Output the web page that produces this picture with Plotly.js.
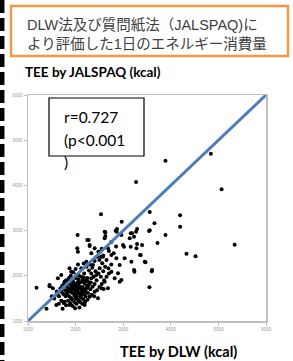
<!DOCTYPE html>
<html>
<head>
<meta charset="utf-8">
<script src="https://cdn.plot.ly/plotly-3.0.1.min.js"></script>
<style>
html,body{margin:0;padding:0;background:#fff;}
#chart{width:293px;height:361px;}
</style>
</head>
<body>
<div id="chart"></div>
<script>
// TEE by DLW (kcal) - x values
const teeDLW = [
3888,4842,5067,3270,2533,2968,2870,3291,3558,4196,3657,4196,3558,3888,3720,5341,4330,4520,3544,3396,3368,3467,3606,3600,3551,
2042,2274,2625,2625,2863,2035,2295,2330,2478,2533,3158,3228,3270,3017,3158,3291,3354,3453,3236,2926,2589,1179,1453,1389,1726,2688,2891,
2610,2842,2610,2962,3137,3185,3278,2246,2295,2049,2400,2505,2575,2680,2751,2856,2996,3031,2926,3172,3228,2962,2751,2821,2610,2680,
1453,1522,1628,1699,1768,1873,1909,1628,1594,1768,1699,1873,1909,2049,2120,2189,2295,2400,2470,2540,2259,2154,2330,2435,2505,2364,2225,2120,2015,1943,2015,2084,
1850,1900,1950,2000,2050,2100,2150,2200,1980,2030,2080,2130,2180,2230,2280,2320,2250,2180,2120,2060,2000,1940,1880,1820,1780,1830,1870,1920,1970,2020,
2070,2110,2160,2210,2260,2310,2360,2400,2440,2380,2330,2280,2230,2170,2300,2350,2420,2480,2530,2580,2620,2560,2500,2450,2400,2050,2000,1950,1900,1860,
1800,1760,1720,1680,1740,1790,1840,1890,1940,1990,2080,2140,2200,2250,2340,2390,2450,2500,2550,2600,2650,2700,2750,2650,2580,2700,2800,2850,2750,2550,
1650,1600,1550,1700,1750,1800,1650,2100,2150,1960,2010,2040,1910,2070,2190,2240,2090,1990,1860,1500,
1930,1975,2025,2065,2115,2165,1885,1835,2005,2055,2145,2205,1955,2095,2255,1795,2175,2035
];
// TEE by JALSPAQ (kcal) - y values
const teeJALSPAQ = [
4546,4701,3914,4075,3361,3197,3035,3035,3411,3338,3161,3086,3007,2903,2726,2688,2489,2431,2991,2681,2460,2299,2128,2100,1746,
2903,2792,2962,2881,2976,2608,2659,2498,2533,2423,2940,2865,2976,2644,2644,2704,2460,2312,2091,1869,1708,1737,1768,1272,1272,2166,2055,
2976,2997,2829,2902,2829,2940,2608,2792,2681,2533,2608,2533,2423,2608,2460,2387,2681,2387,2239,2312,2128,1907,2091,1944,1870,1723,
1796,1723,1944,2017,1870,2166,2091,1575,1354,1427,1648,1354,1502,1465,1575,1354,1538,1648,1502,1723,1759,1870,1944,2017,2166,2239,2312,2166,2017,1796,1648,1723,
1700,1650,1750,1800,1700,1850,1750,1900,1600,1550,1620,1680,1600,1720,1800,1850,1950,2050,1980,1920,1950,1880,1820,1760,1680,1600,1540,1480,1420,1380,
1450,1520,1480,1550,1620,1700,1760,1820,1900,1980,2050,2120,2200,2270,2250,2180,2100,2050,1980,2100,2200,2280,2350,2420,2330,2250,2150,2080,2000,1950,
1900,1830,1780,1720,1600,1550,1450,1400,1330,1280,1300,1380,1420,1470,1580,1550,1680,1750,1820,1900,1980,2050,2250,2350,2450,2550,2500,2650,2750,2600,
1550,1650,1500,1450,1400,1350,1380,1600,1650,1700,1750,1850,1760,2000,1830,1780,1760,1680,1880,1550,
1620,1560,1660,1740,1580,1700,1710,1640,1500,1820,1900,1660,1860,1420,1880,1590,1960,1620
];
// identity line
const refX = [1000, 6000];
const refY = [1000, 6000];
const tickVals = [1000, 2000, 3000, 4000, 5000, 6000];
const tickText = ["1000", "2000", "3000", "4000", "5000", "6000"];
const titleLines = ["DLW法及び質問紙法（JALSPAQ)に", "より評価した1日のエネルギー消費量"];
const yTitle = "TEE by JALSPAQ (kcal)";
const xTitle = "TEE by DLW (kcal)";
const statLines = ["r=0.727", "(p&lt;0.001", ")"];

const L = 28, R = 27, T = 95, B = 40, W = 293, H = 361;
const pw = W - L - R, ph = H - T - B;
const px = x => (x - L) / pw;
const py = y => (H - B - y) / ph;

const traces = [
  {x: teeDLW, y: teeJALSPAQ, type: 'scatter', mode: 'markers',
   marker: {color: '#000', size: 4}, hoverinfo: 'none', cliponaxis: true},
  {x: refX, y: refY, type: 'scatter', mode: 'lines',
   line: {color: '#4a7ebb', width: 3}, hoverinfo: 'none'}
];

const axisCommon = {
  range: [1000, 6000], tickvals: tickVals, ticktext: tickText,
  showgrid: false, zeroline: false, showline: true, mirror: true,
  linecolor: '#c0c0c0', linewidth: 1.5, ticks: 'outside', ticklen: 3,
  tickcolor: '#c0c0c0', tickwidth: 1,
  tickfont: {size: 4.5, color: '#9a9a9a', family: 'Liberation Sans'}
};

const annotations = [
  {text: titleLines.join('<br>'), x: px(25), y: py(33.5), xanchor: 'left', yanchor: 'middle', align: 'left',
   xref: 'paper', yref: 'paper', showarrow: false,
   font: {family: 'Liberation Sans, Noto Sans CJK JP', size: 14.5, color: '#404040'}}
];

annotations.push({text: '<b>' + yTitle + '</b>', x: px(23), y: py(72), xanchor: 'left', yanchor: 'middle',
  xref: 'paper', yref: 'paper', showarrow: false, font: {family: 'Lato', size: 13.5, color: '#000'}});
annotations.push({text: '<b>' + xTitle + '</b>', x: px(178.5), y: py(351.5), xanchor: 'center', yanchor: 'middle',
  xref: 'paper', yref: 'paper', showarrow: false, font: {family: 'Lato', size: 14.5, color: '#000'}});
const statY = [117, 139.5, 162];
statLines.forEach((t, i) => annotations.push({text: t, x: px(62), y: py(statY[i]), xanchor: 'left', yanchor: 'middle',
  xref: 'paper', yref: 'paper', showarrow: false, font: {family: 'Lato', size: 15.5, color: '#000'}}));

const shapes = [
  {type: 'rect', xref: 'paper', yref: 'paper', x0: px(11), x1: px(288), y0: py(56), y1: py(6),
   line: {color: '#F79646', width: 2.5}, fillcolor: 'rgba(0,0,0,0)'},
  {type: 'rect', xref: 'paper', yref: 'paper', x0: px(49), x1: px(144), y0: py(156), y1: py(98),
   line: {color: '#000', width: 1.2}, fillcolor: 'rgba(0,0,0,0)'},
  {type: 'line', xref: 'paper', yref: 'paper', x0: px(2.2), x1: px(2.2), y0: py(0), y1: py(361),
   line: {color: '#000', width: 4.5, dash: '13px,5px'}}
];

const layout = {
  width: W, height: H, margin: {l: L, r: R, t: T, b: B, pad: 0},
  paper_bgcolor: '#fff', plot_bgcolor: '#fff', showlegend: false,
  xaxis: Object.assign({}, axisCommon),
  yaxis: Object.assign({}, axisCommon),
  annotations: annotations, shapes: shapes
};

Plotly.newPlot('chart', traces, layout, {staticPlot: true, displayModeBar: false});
</script>
</body>
</html>
